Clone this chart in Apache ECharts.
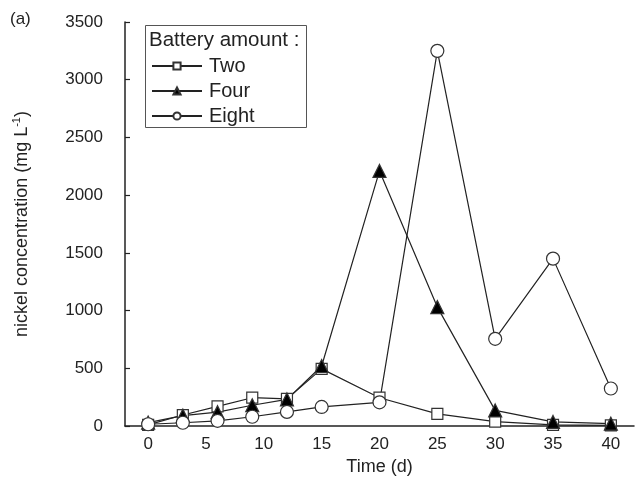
<!DOCTYPE html>
<html>
<head>
<meta charset="utf-8">
<script src="https://cdn.jsdelivr.net/npm/echarts@6/dist/echarts.min.js"></script>
<style>
  html, body { margin: 0; padding: 0; background: #fff; }
  #chart { width: 638px; height: 494px; }
</style>
</head>
<body>
<div id="chart"></div>
<script>
// Sampling days
const days = [0, 3, 6, 9, 12, 15, 20, 25, 30, 35, 40];
// Nickel concentration (mg/L) for each battery amount
const twoBatteries = [10, 95, 170, 245, 235, 495, 245, 105, 38, 10, 5];
const fourBatteries = [30, 90, 120, 180, 230, 520, 2210, 1030, 135, 35, 20];
const eightBatteries = [15, 28, 45, 80, 122, 165, 205, 3250, 755, 1450, 325];
const xTickValues = [0, 5, 10, 15, 20, 25, 30, 35, 40];
const seriesNames = ['Two', 'Four', 'Eight'];

const FONT = 'Liberation Sans, Arial, sans-serif';
const INK = '#222';

function pairs(xs, ys) {
  return xs.map((x, i) => [x, ys[i]]);
}

function makeSeries(name, values, symbol, size, fill) {
  return {
    name: name,
    type: 'line',
    data: pairs(days, values),
    symbol: symbol,
    symbolSize: size,
    showAllSymbol: true,
    lineStyle: { color: INK, width: 1.2 },
    itemStyle: { color: fill, borderColor: '#333', borderWidth: 1.2 },
    emphasis: { disabled: true },
    animation: false
  };
}

const chart = echarts.init(document.getElementById('chart'), null, { renderer: 'canvas' });

chart.setOption({
  backgroundColor: '#fff',
  animation: false,
  grid: { left: 125, right: 4, top: 22, bottom: 68, containLabel: false },
  xAxis: {
    type: 'value',
    min: -2,
    max: 42,
    name: 'Time (d)',
    nameLocation: 'middle',
    nameGap: 32,
    nameTextStyle: { fontFamily: FONT, fontSize: 18, color: INK },
    axisLine: { show: true, onZero: false, lineStyle: { color: INK, width: 1.5 } },
    axisTick: { show: false },
    splitLine: { show: false },
    axisLabel: {
      customValues: xTickValues,
      fontFamily: FONT, fontSize: 17, color: INK, margin: 10
    }
  },
  yAxis: {
    type: 'value',
    min: 0,
    max: 3500,
    interval: 500,
    name: '{a|nickel concentration (mg L}{s|-1}{a|)}',
    nameLocation: 'middle',
    nameRotate: 90,
    nameGap: 92,
    nameTextStyle: {
      rich: {
        a: { fontFamily: FONT, fontSize: 18, color: INK, lineHeight: 22 },
        s: { fontFamily: FONT, fontSize: 11, color: INK, verticalAlign: 'top', lineHeight: 22, padding: [0, 0, 8, 0] }
      }
    },
    axisLine: { show: true, onZero: false, lineStyle: { color: INK, width: 1.5 } },
    axisTick: { show: true, inside: true, length: 5, lineStyle: { color: INK, width: 1.2 } },
    splitLine: { show: false },
    axisLabel: {
      fontFamily: FONT, fontSize: 17, color: INK, margin: 22,
      formatter: (v) => String(v)
    }
  },
  legend: {
    orient: 'vertical',
    left: 146,
    top: 51,
    data: seriesNames,
    itemWidth: 50,
    itemHeight: 9,
    itemGap: 5,
    textStyle: { fontFamily: FONT, fontSize: 20, color: INK, padding: [0, 0, 0, 2] },
    selectedMode: false
  },
  graphic: [
    {
      type: 'rect',
      shape: { x: 145.5, y: 25.5, width: 161, height: 102 },
      style: { fill: 'none', stroke: '#555', lineWidth: 1 },
      z: 10
    },
    {
      type: 'text',
      left: 149,
      top: 30,
      style: { text: 'Battery amount :', font: '20.5px ' + FONT, fill: INK },
      z: 10
    },
    {
      type: 'text',
      left: 10,
      top: 11,
      style: { text: '(a)', font: '17px ' + FONT, fill: INK }
    }
  ],
  series: [
    makeSeries('Two', twoBatteries, 'rect', 11, '#fff'),
    makeSeries('Four', fourBatteries, 'triangle', 13, '#000'),
    makeSeries('Eight', eightBatteries, 'circle', 13, '#fff')
  ]
});
</script>
</body>
</html>
